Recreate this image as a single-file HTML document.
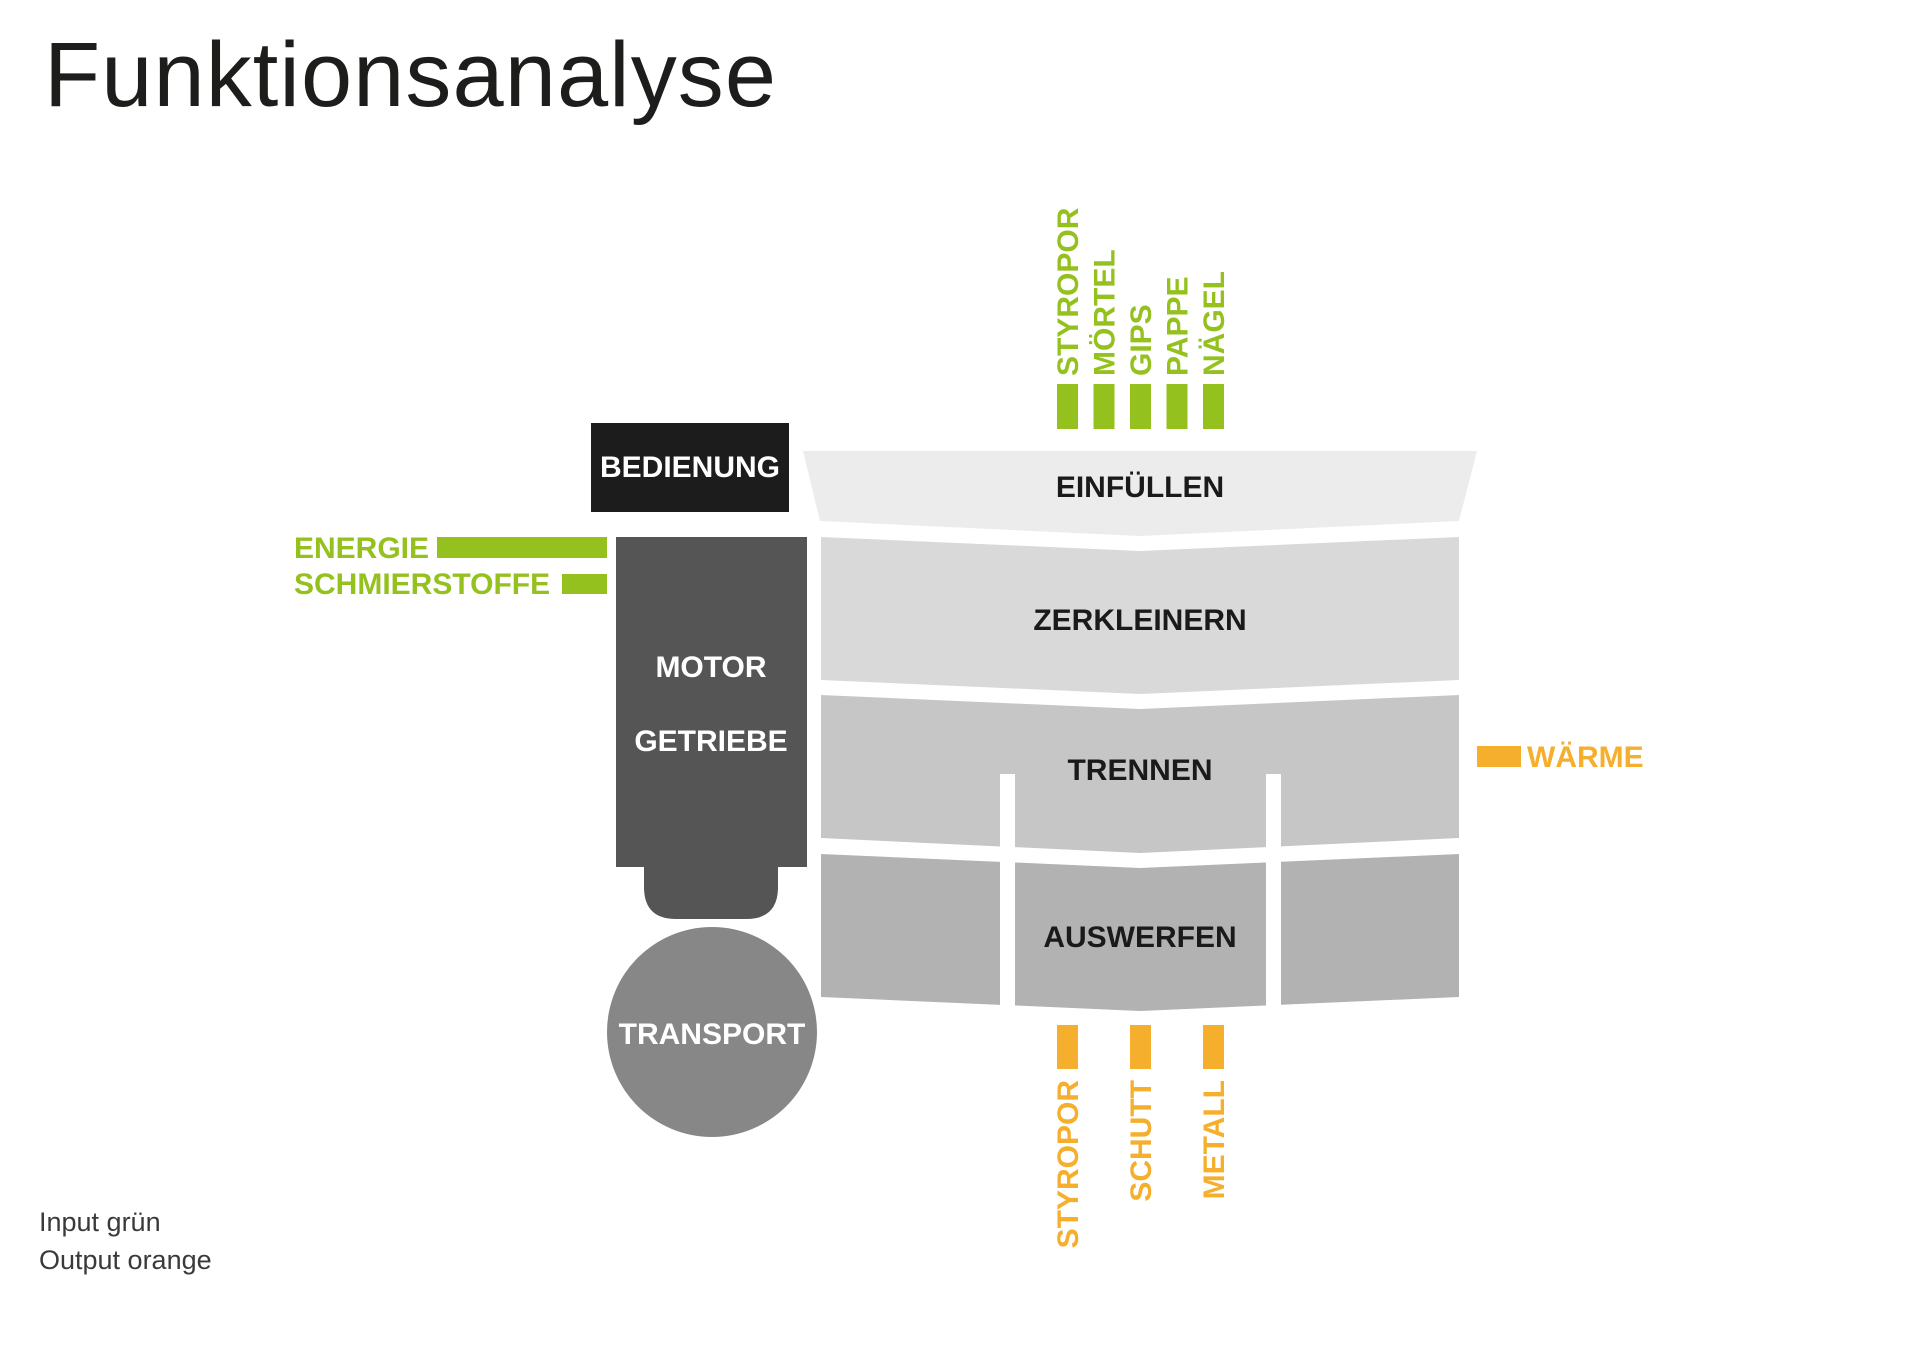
<!DOCTYPE html>
<html>
<head>
<meta charset="utf-8">
<style>
  html, body { margin: 0; padding: 0; background: #ffffff; }
  body { width: 1920px; height: 1358px; overflow: hidden; }
  svg { display: block; }
  .b { font-family: "Liberation Sans", Arial, sans-serif; font-weight: bold; font-size: 30px; }
</style>
</head>
<body>
<svg width="1920" height="1358" viewBox="0 0 1920 1358" xmlns="http://www.w3.org/2000/svg">
  <rect x="0" y="0" width="1920" height="1358" fill="#ffffff"/>

  <!-- Title -->
  <text x="44" y="106" font-family="Liberation Sans, Arial, sans-serif" font-size="92" fill="#1d1d1b" textLength="732" lengthAdjust="spacing">Funktionsanalyse</text>

  <!-- Green input bars (top) -->
  <g fill="#95c11f">
    <rect x="1057" y="384" width="21" height="45"/>
    <rect x="1093.5" y="384" width="21" height="45"/>
    <rect x="1130" y="384" width="21" height="45"/>
    <rect x="1166.5" y="384" width="21" height="45"/>
    <rect x="1203" y="384" width="21" height="45"/>
  </g>
  <g class="b" fill="#95c11f">
    <text transform="translate(1078,376) rotate(-90)">STYROPOR</text>
    <text transform="translate(1114.5,376) rotate(-90)">MÖRTEL</text>
    <text transform="translate(1151,376) rotate(-90)">GIPS</text>
    <text transform="translate(1187.5,376) rotate(-90)">PAPPE</text>
    <text transform="translate(1224,376) rotate(-90)">NÄGEL</text>
  </g>

  <!-- BEDIENUNG -->
  <rect x="591" y="423" width="198" height="89" fill="#1c1c1c"/>
  <text class="b" x="690" y="477" fill="#ffffff" text-anchor="middle">BEDIENUNG</text>

  <!-- Energie / Schmierstoffe -->
  <text class="b" x="294" y="558" fill="#95c11f">ENERGIE</text>
  <rect x="437" y="537" width="170" height="21" fill="#95c11f"/>
  <text class="b" x="294" y="594" fill="#95c11f">SCHMIERSTOFFE</text>
  <rect x="562" y="574" width="45" height="20" fill="#95c11f"/>

  <!-- Motor / Getriebe -->
  <rect x="616" y="537" width="191" height="330" fill="#555555"/>
  <path d="M644 866 H778 V887 Q778 919 746 919 H676 Q644 919 644 887 Z" fill="#555555"/>
  <text class="b" x="711" y="677" fill="#ffffff" text-anchor="middle">MOTOR</text>
  <text class="b" x="711" y="751" fill="#ffffff" text-anchor="middle">GETRIEBE</text>

  <!-- Transport -->
  <circle cx="712" cy="1032" r="105" fill="#878787"/>
  <text class="b" x="712" y="1044" fill="#ffffff" text-anchor="middle">TRANSPORT</text>

  <!-- Einfüllen -->
  <polygon points="803,451 1477,451 1459,521 1140,536 820,521" fill="#ececec"/>
  <text class="b" x="1140" y="497" fill="#1a1a1a" text-anchor="middle">EINFÜLLEN</text>

  <!-- Zerkleinern -->
  <polygon points="821,537 1140,551 1459,537 1459,680 1140,694 821,680" fill="#d9d9d9"/>
  <text class="b" x="1140" y="630" fill="#1a1a1a" text-anchor="middle">ZERKLEINERN</text>

  <!-- Trennen -->
  <polygon points="821,695 1140,709 1459,695 1459,838 1140,853 821,838" fill="#c6c6c6"/>
  <text class="b" x="1140" y="780" fill="#1a1a1a" text-anchor="middle">TRENNEN</text>

  <!-- Auswerfen -->
  <polygon points="821,854 1140,868 1459,854 1459,997 1140,1011 821,997" fill="#b2b2b2"/>
  <text class="b" x="1140" y="947" fill="#1a1a1a" text-anchor="middle">AUSWERFEN</text>

  <!-- white slits -->
  <rect x="1000" y="774" width="15" height="250" fill="#ffffff"/>
  <rect x="1266" y="774" width="15" height="250" fill="#ffffff"/>

  <!-- Wärme -->
  <rect x="1477" y="746" width="44" height="21" fill="#f6ae2d"/>
  <text class="b" x="1527" y="767" fill="#f6ae2d">WÄRME</text>

  <!-- Orange output bars (bottom) -->
  <g fill="#f6ae2d">
    <rect x="1057" y="1025" width="21" height="44"/>
    <rect x="1130" y="1025" width="21" height="44"/>
    <rect x="1203" y="1025" width="21" height="44"/>
  </g>
  <g class="b" fill="#f6ae2d">
    <text transform="translate(1078,1080) rotate(-90)" text-anchor="end">STYROPOR</text>
    <text transform="translate(1151,1080) rotate(-90)" text-anchor="end">SCHUTT</text>
    <text transform="translate(1224,1080) rotate(-90)" text-anchor="end">METALL</text>
  </g>

  <!-- Legend -->
  <text x="39" y="1231" font-family="Liberation Sans, Arial, sans-serif" font-size="27" fill="#3a3a3a">Input grün</text>
  <text x="39" y="1269" font-family="Liberation Sans, Arial, sans-serif" font-size="27" fill="#3a3a3a">Output orange</text>
</svg>
</body>
</html>
